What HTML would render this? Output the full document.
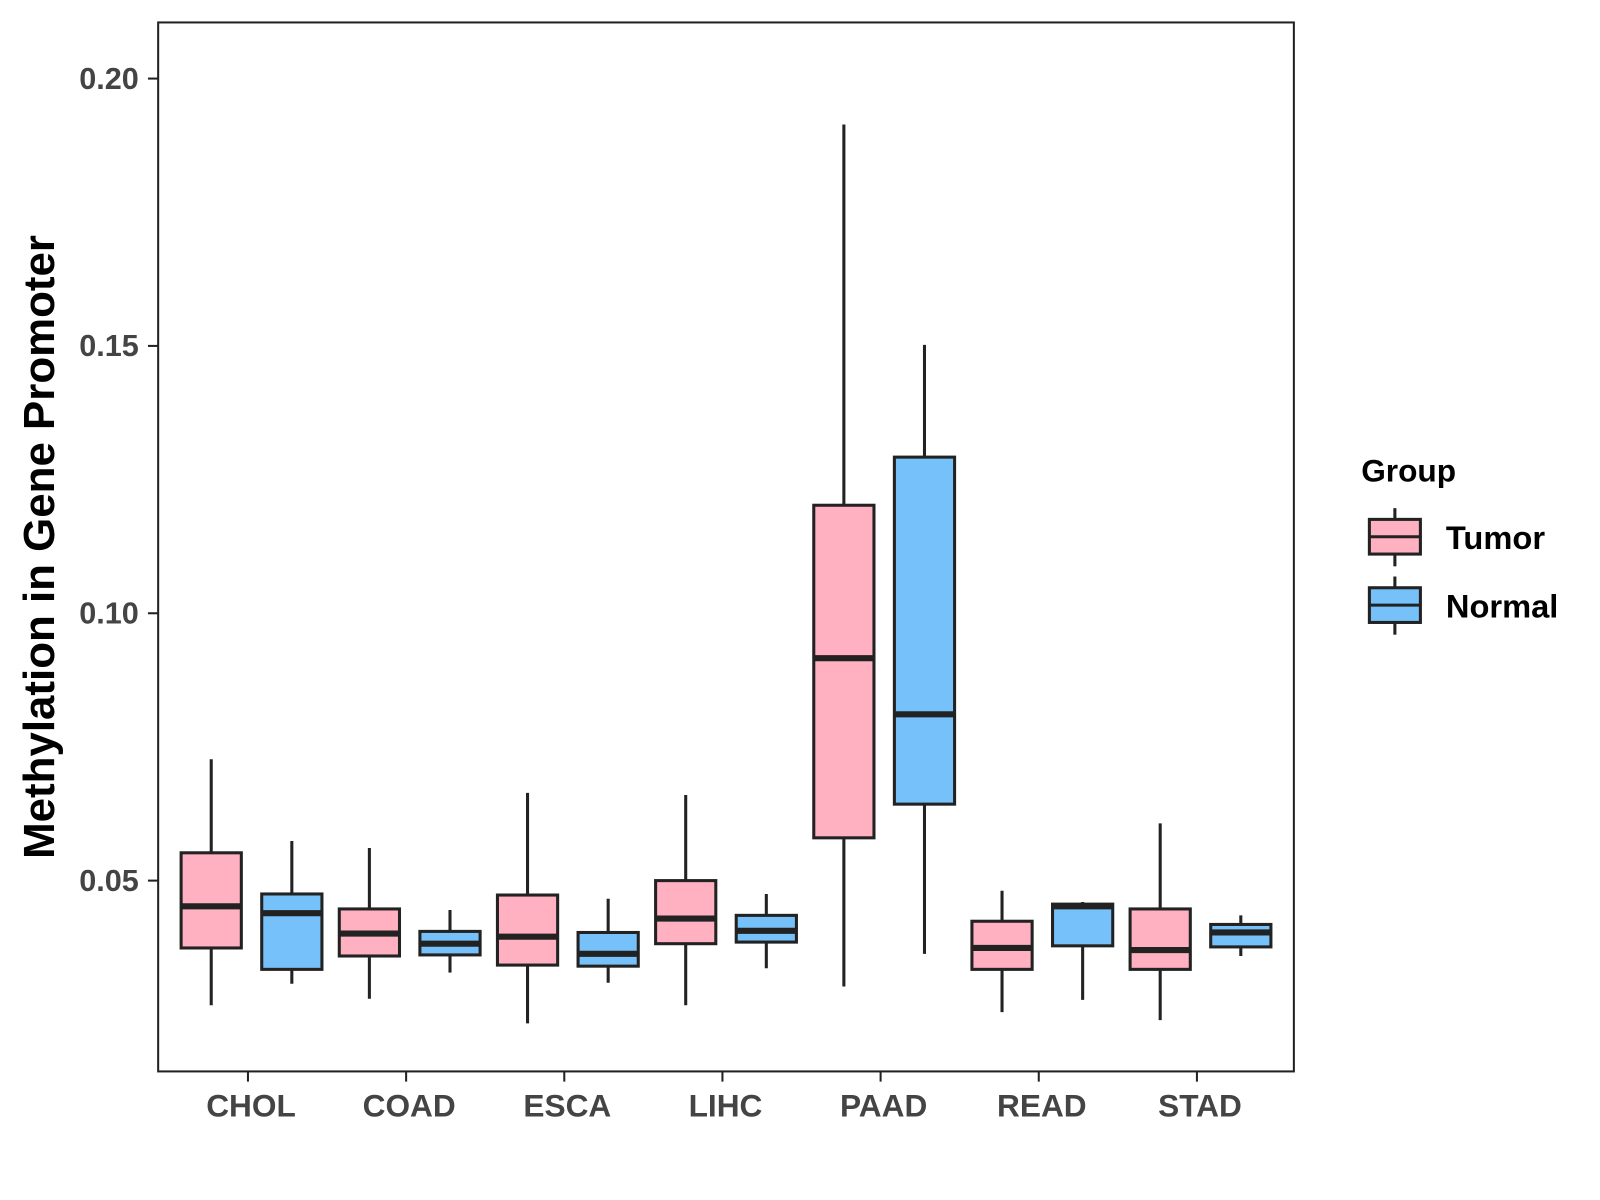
<!DOCTYPE html>
<html><head><meta charset="utf-8"><style>
body{margin:0;background:#fff}
svg{display:block;font-family:"Liberation Sans",Arial,sans-serif;font-weight:bold}
</style></head><body>
<svg id="chart" width="1600" height="1200" viewBox="0 0 1600 1200">
<g transform="scale(1.0204)">
<rect x="155" y="22" width="1113" height="1028" fill="#fff" stroke="#222" stroke-width="2"/>
<g id="marks"></g>
<g id="axes"></g>
<text x="0" y="0" transform="translate(53,536) rotate(-90)" text-anchor="middle" font-size="43" fill="#000">Methylation in Gene Promoter</text>
<g>
<text x="1334" y="472" font-size="31" fill="#000">Group</text>
<g>
<line x1="1367" y1="498" x2="1367" y2="555" stroke="#222" stroke-width="3"/>
<rect x="1342" y="509" width="50" height="34" fill="#ffb0c1" stroke="#222" stroke-width="3"/>
<line x1="1342" y1="526" x2="1392" y2="526" stroke="#222" stroke-width="3"/>
<text x="1417" y="538" font-size="32" fill="#000">Tumor</text>
</g>
<g>
<line x1="1367" y1="565" x2="1367" y2="622" stroke="#222" stroke-width="3"/>
<rect x="1342" y="576" width="50" height="34" fill="#76c1f9" stroke="#222" stroke-width="3"/>
<line x1="1342" y1="593" x2="1392" y2="593" stroke="#222" stroke-width="3"/>
<text x="1417" y="605" font-size="32" fill="#000">Normal</text>
</g>
</g>
</g>
</svg>
<script>
const categories=["CHOL","COAD","ESCA","LIHC","PAAD","READ","STAD"];
const tumorStats=[[0.0267,0.0374,0.0452,0.0552,0.0727],[0.0279,0.0359,0.0401,0.0447,0.0561],[0.0233,0.0342,0.0395,0.0473,0.0664],[0.0267,0.0382,0.0429,0.0500,0.0660],[0.0302,0.0580,0.0916,0.1202,0.1914],[0.0254,0.0334,0.0374,0.0424,0.0481],[0.0239,0.0334,0.0370,0.0447,0.0607]];
const normalStats=[[0.0307,0.0334,0.0439,0.0475,0.0574],[0.0328,0.0361,0.0382,0.0405,0.0445],[0.0309,0.0340,0.0363,0.0403,0.0466],[0.0336,0.0385,0.0406,0.0435,0.0475],[0.0363,0.0643,0.0811,0.1292,0.1502],[0.0277,0.0378,0.0452,0.0456,0.0460],[0.0359,0.0376,0.0403,0.0418,0.0435]];
const yTicks=[0.05,0.10,0.15,0.20];
const yTickLabels=["0.05","0.10","0.15","0.20"];
const NS="http://www.w3.org/2000/svg";
const y=v=>863-(v-0.05)*5240;
const x=i=>243+i*155;
function mk(tag,attrs,parent){const e=document.createElementNS(NS,tag);for(const k in attrs)e.setAttribute(k,attrs[k]);parent.appendChild(e);return e;}
const marks=document.getElementById('marks'),axes=document.getElementById('axes');
function drawBox(cx,s,fill,name){
  const g=mk('g',{},marks);
  
  
  mk('line',{x1:cx,x2:cx,y1:y(s[4]),y2:y(s[0]),stroke:'#222','stroke-width':3},g);
  mk('rect',{x:cx-29.5,width:59,y:y(s[3]),height:y(s[1])-y(s[3]),fill:fill,stroke:'#222','stroke-width':3},g);
  mk('line',{x1:cx-29.5,x2:cx+29.5,y1:y(s[2]),y2:y(s[2]),stroke:'#222','stroke-width':6},g);
}
categories.forEach((c,i)=>{
  drawBox(x(i)-36,tumorStats[i],'#ffb0c1','box-'+c.toLowerCase()+'-tumor');
  drawBox(x(i)+43,normalStats[i],'#76c1f9','box-'+c.toLowerCase()+'-normal');
  mk('line',{x1:x(i),x2:x(i),y1:1050,y2:1060,stroke:'#222','stroke-width':2},axes);
  const t=mk('text',{x:x(i)+3,y:1094,'text-anchor':'middle','font-size':31,fill:'#444'},axes);
  
  
  t.textContent=c;
});
yTicks.forEach((v,i)=>{
  mk('line',{x1:145,x2:155,y1:y(v),y2:y(v),stroke:'#222','stroke-width':2},axes);
  const t=mk('text',{x:136,y:y(v)+10,'text-anchor':'end','font-size':30,fill:'#444'},axes);
  
  
  t.textContent=yTickLabels[i];
});
</script>
</body></html>
